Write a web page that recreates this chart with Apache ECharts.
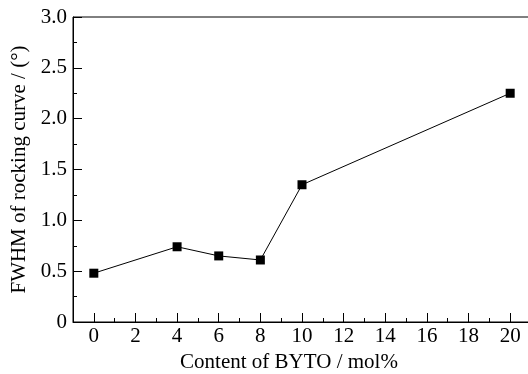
<!DOCTYPE html>
<html>
<head>
<meta charset="utf-8">
<script src="https://cdn.jsdelivr.net/npm/echarts@6/dist/echarts.min.js"></script>
<style>html,body{margin:0;padding:0;background:#fff}#c{width:528px;height:374px}</style>
</head>
<body>
<div id="c"></div>
<script>
const content = [0, 4, 6, 8, 10, 20];
const fwhm = [0.48, 0.74, 0.65, 0.61, 1.35, 2.25];
const xMajorTicks = [0, 2, 4, 6, 8, 10, 12, 14, 16, 18, 20];
const xMinorTicks = [1, 3, 5, 7, 9, 11, 13, 15, 17, 19];
const xName = 'Content of BYTO / mol%';
const yName = 'FWHM of rocking curve / (°)';

const font = 'Liberation Serif';
const fs = 21;
const chart = echarts.init(document.getElementById('c'), null, {renderer: 'canvas'});
chart.setOption({
  animation: false,
  backgroundColor: '#fff',
  grid: {left: 73, top: 17, right: -3, bottom: 52, outerBoundsMode: 'none', containLabel: false,
    show: true, borderColor: '#000', borderWidth: 1, backgroundColor: 'transparent'},
  xAxis: [{
    type: 'value', min: -1, max: 21,
    name: xName, nameLocation: 'middle', nameGap: 25,
    nameTextStyle: {fontFamily: font, fontSize: fs, color: '#000', padding: [0, 26, 0, 0]},
    axisLine: {show: true, onZero: false, lineStyle: {color: '#000', width: 1}},
    axisTick: {show: true, inside: true, length: 9, customValues: xMajorTicks, lineStyle: {color: '#000'}},
    axisLabel: {show: true, customValues: xMajorTicks, margin: 4, fontFamily: font, fontSize: fs, color: '#000'},
    splitLine: {show: false}
  }, {
    type: 'value', min: -1, max: 21, position: 'bottom',
    axisLine: {show: false, onZero: false},
    axisTick: {show: true, inside: true, length: 4, customValues: xMinorTicks, lineStyle: {color: '#000'}},
    axisLabel: {show: false},
    splitLine: {show: false}
  }],
  yAxis: {
    type: 'value', min: 0, max: 3, interval: 0.5,
    name: yName, nameLocation: 'middle', nameGap: 42,
    nameTextStyle: {fontFamily: font, fontSize: fs, color: '#000'},
    axisLine: {show: true, onZero: false, lineStyle: {color: '#000', width: 1}},
    axisTick: {show: true, inside: true, length: 9, lineStyle: {color: '#000'}},
    minorTick: {show: true, splitNumber: 2, length: 4, lineStyle: {color: '#000'}},
    axisLabel: {margin: 6, fontFamily: font, fontSize: fs, color: '#000',
      formatter: v => v === 0 ? '0' : v.toFixed(1)},
    splitLine: {show: false}
  },
  series: [{
    type: 'line',
    xAxisIndex: 0,
    data: content.map((x, i) => [x, fwhm[i]]),
    symbol: 'rect', symbolSize: 9,
    itemStyle: {color: '#000'},
    lineStyle: {color: '#000', width: 1}
  }]
});
</script>
</body>
</html>
